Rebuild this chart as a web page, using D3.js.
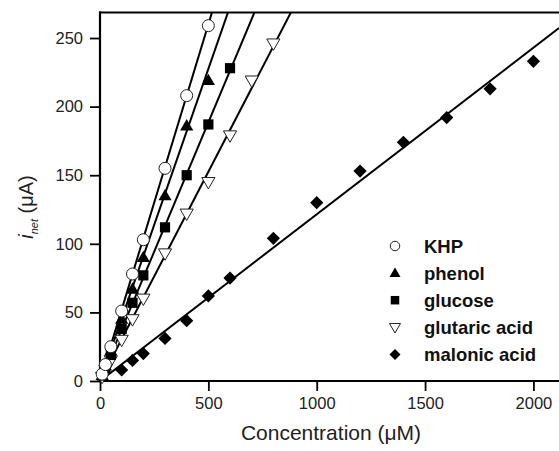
<!DOCTYPE html>
<html><head><meta charset="utf-8">
<script src="https://cdn.jsdelivr.net/npm/d3@7"></script>
<style>body{margin:0;background:#fff}svg{display:block;font-family:"Liberation Sans",Arial,sans-serif}</style>
</head><body><svg id="c" width="559" height="451"></svg>
<script>
const seriesNames = ["KHP","phenol","glucose","glutaric acid","malonic acid"];
const khpX = [10,25,50,100,150,200,300,400,500];
const khpY = [5,12,25,51,78,103,155,208,259];
const phenolX = [10,25,50,100,150,200,300,400,500];
const phenolY = [4,11,22,45,67,90,135,186,219];
const glucoseX = [10,25,50,100,150,200,300,400,500,600];
const glucoseY = [4,9,19,38,57,77,112,150,187,228];
const glutaricX = [10,25,50,100,150,200,300,400,500,600,700,800];
const glutaricY = [3,8,15,30,45,60,93,122,145,179,219,246];
const malonicX = [100,150,200,300,400,500,600,800,1000,1200,1400,1600,1800,2000];
const malonicY = [8,15,20,31,44,62,75,104,130,153,174,192,213,233];
const fitSlopes = [0.52,0.455,0.377,0.305,0.1215];
const fitIntercepts = [0,0,0,0,0];
const xTicks = [0,500,1000,1500,2000];
const yTicks = [0,50,100,150,200,250];

const svg = d3.select("#c");
const L=100,R=559,T=12.5,B=381;
const x = d3.scaleLinear().domain([0,2118]).range([L,R]);
const y = d3.scaleLinear().domain([0,268.6]).range([B,T]);

const sets = [[khpX,khpY],[phenolX,phenolY],[glucoseX,glucoseY],[glutaricX,glutaricY],[malonicX,malonicY]];

svg.append("clipPath").attr("id","clip").append("rect").attr("x",L).attr("y",T).attr("width",R-L).attr("height",B-T);

// fit lines
const gl = svg.append("g").attr("clip-path","url(#clip)");
fitSlopes.forEach((m,i)=>{
  const b = fitIntercepts[i];
  gl.append("line").attr("x1",x(0)).attr("y1",y(b)).attr("x2",x(2118)).attr("y2",y(b+m*2118))
    .attr("stroke","#000").attr("stroke-width",2);
});

// axes
const xMinor = d3.range(0,2118,250);
const yMinor = d3.range(0,268,25);
const gx = svg.append("g").attr("transform",`translate(0,${B})`);
gx.call(d3.axisBottom(x).tickValues(xMinor).tickSize(6).tickFormat(""));
gx.call(d3.axisBottom(x).tickValues(xTicks).tickSize(10).tickPadding(6).tickFormat(d3.format("d")));
const gy = svg.append("g").attr("transform",`translate(${L},0)`);
gy.call(d3.axisLeft(y).tickValues(yMinor).tickSize(6).tickFormat(""));
gy.call(d3.axisLeft(y).tickValues(yTicks).tickSize(10).tickPadding(7).tickFormat(d3.format("d")));
svg.selectAll(".domain").remove();
svg.selectAll(".tick line").attr("stroke","#000").attr("stroke-width",1.8);
svg.selectAll(".tick text").attr("font-size",16.5).attr("fill","#222").attr("font-family","Liberation Sans, Arial, sans-serif");
svg.append("line").attr("x1",L).attr("x2",R).attr("y1",B).attr("y2",B).attr("stroke","#000").attr("stroke-width",2.2);
svg.append("line").attr("x1",L).attr("x2",L).attr("y1",T-1).attr("y2",B+1).attr("stroke","#000").attr("stroke-width",2.2);
svg.append("line").attr("x1",L-1).attr("x2",R).attr("y1",T).attr("y2",T).attr("stroke","#000").attr("stroke-width",2.2);

// markers
function marker(g, type, cx, cy, s){
  if(type===0){ g.append("circle").attr("cx",cx).attr("cy",cy).attr("r",s*0.5).attr("fill","#fff").attr("stroke","#222").attr("stroke-width",1); }
  else if(type===1){ const h=s*0.95; g.append("path").attr("d",`M${cx},${cy-h*0.6}L${cx+s*0.55},${cy+h*0.4}L${cx-s*0.55},${cy+h*0.4}Z`).attr("fill","#000"); }
  else if(type===2){ const a=s*0.85; g.append("rect").attr("x",cx-a/2).attr("y",cy-a/2).attr("width",a).attr("height",a).attr("fill","#000"); }
  else if(type===3){ const h=s*0.95; g.append("path").attr("d",`M${cx},${cy+h*0.6}L${cx+s*0.55},${cy-h*0.4}L${cx-s*0.55},${cy-h*0.4}Z`).attr("fill","#fff").attr("stroke","#222").attr("stroke-width",1); }
  else { const r=s*0.55; g.append("path").attr("d",`M${cx},${cy-r}L${cx+r},${cy}L${cx},${cy+r}L${cx-r},${cy}Z`).attr("fill","#000"); }
}
const gm = svg.append("g");
[4,3,2,1,0].forEach(i=>{
  const [xs,ys]=sets[i];
  xs.forEach((v,j)=>marker(gm,i,x(v),y(ys[j]),12));
});

// legend
const lg = svg.append("g");
seriesNames.forEach((n,i)=>{
  const cy = 246 + i*27.1;
  marker(lg,i,395,cy,i===0?9.5:10);
  lg.append("text").attr("x",424).attr("y",cy+6.5).attr("font-size",18.5).attr("font-weight","bold").attr("fill","#111").text(n);
});

// axis titles
svg.append("text").attr("x",331).attr("y",440).attr("text-anchor","middle").attr("font-size",21).attr("fill","#222")
  .text("Concentration (\u03BCM)");
const yt = svg.append("text").attr("transform","translate(33,207) rotate(-90)").attr("text-anchor","middle").attr("font-size",20).attr("fill","#222");
yt.append("tspan").attr("font-style","italic").text("i");
yt.append("tspan").attr("font-style","italic").attr("font-size",11).attr("dy",5).text("net");
yt.append("tspan").attr("dy",-5).text(" (\u03BCA)");
</script></body></html>
